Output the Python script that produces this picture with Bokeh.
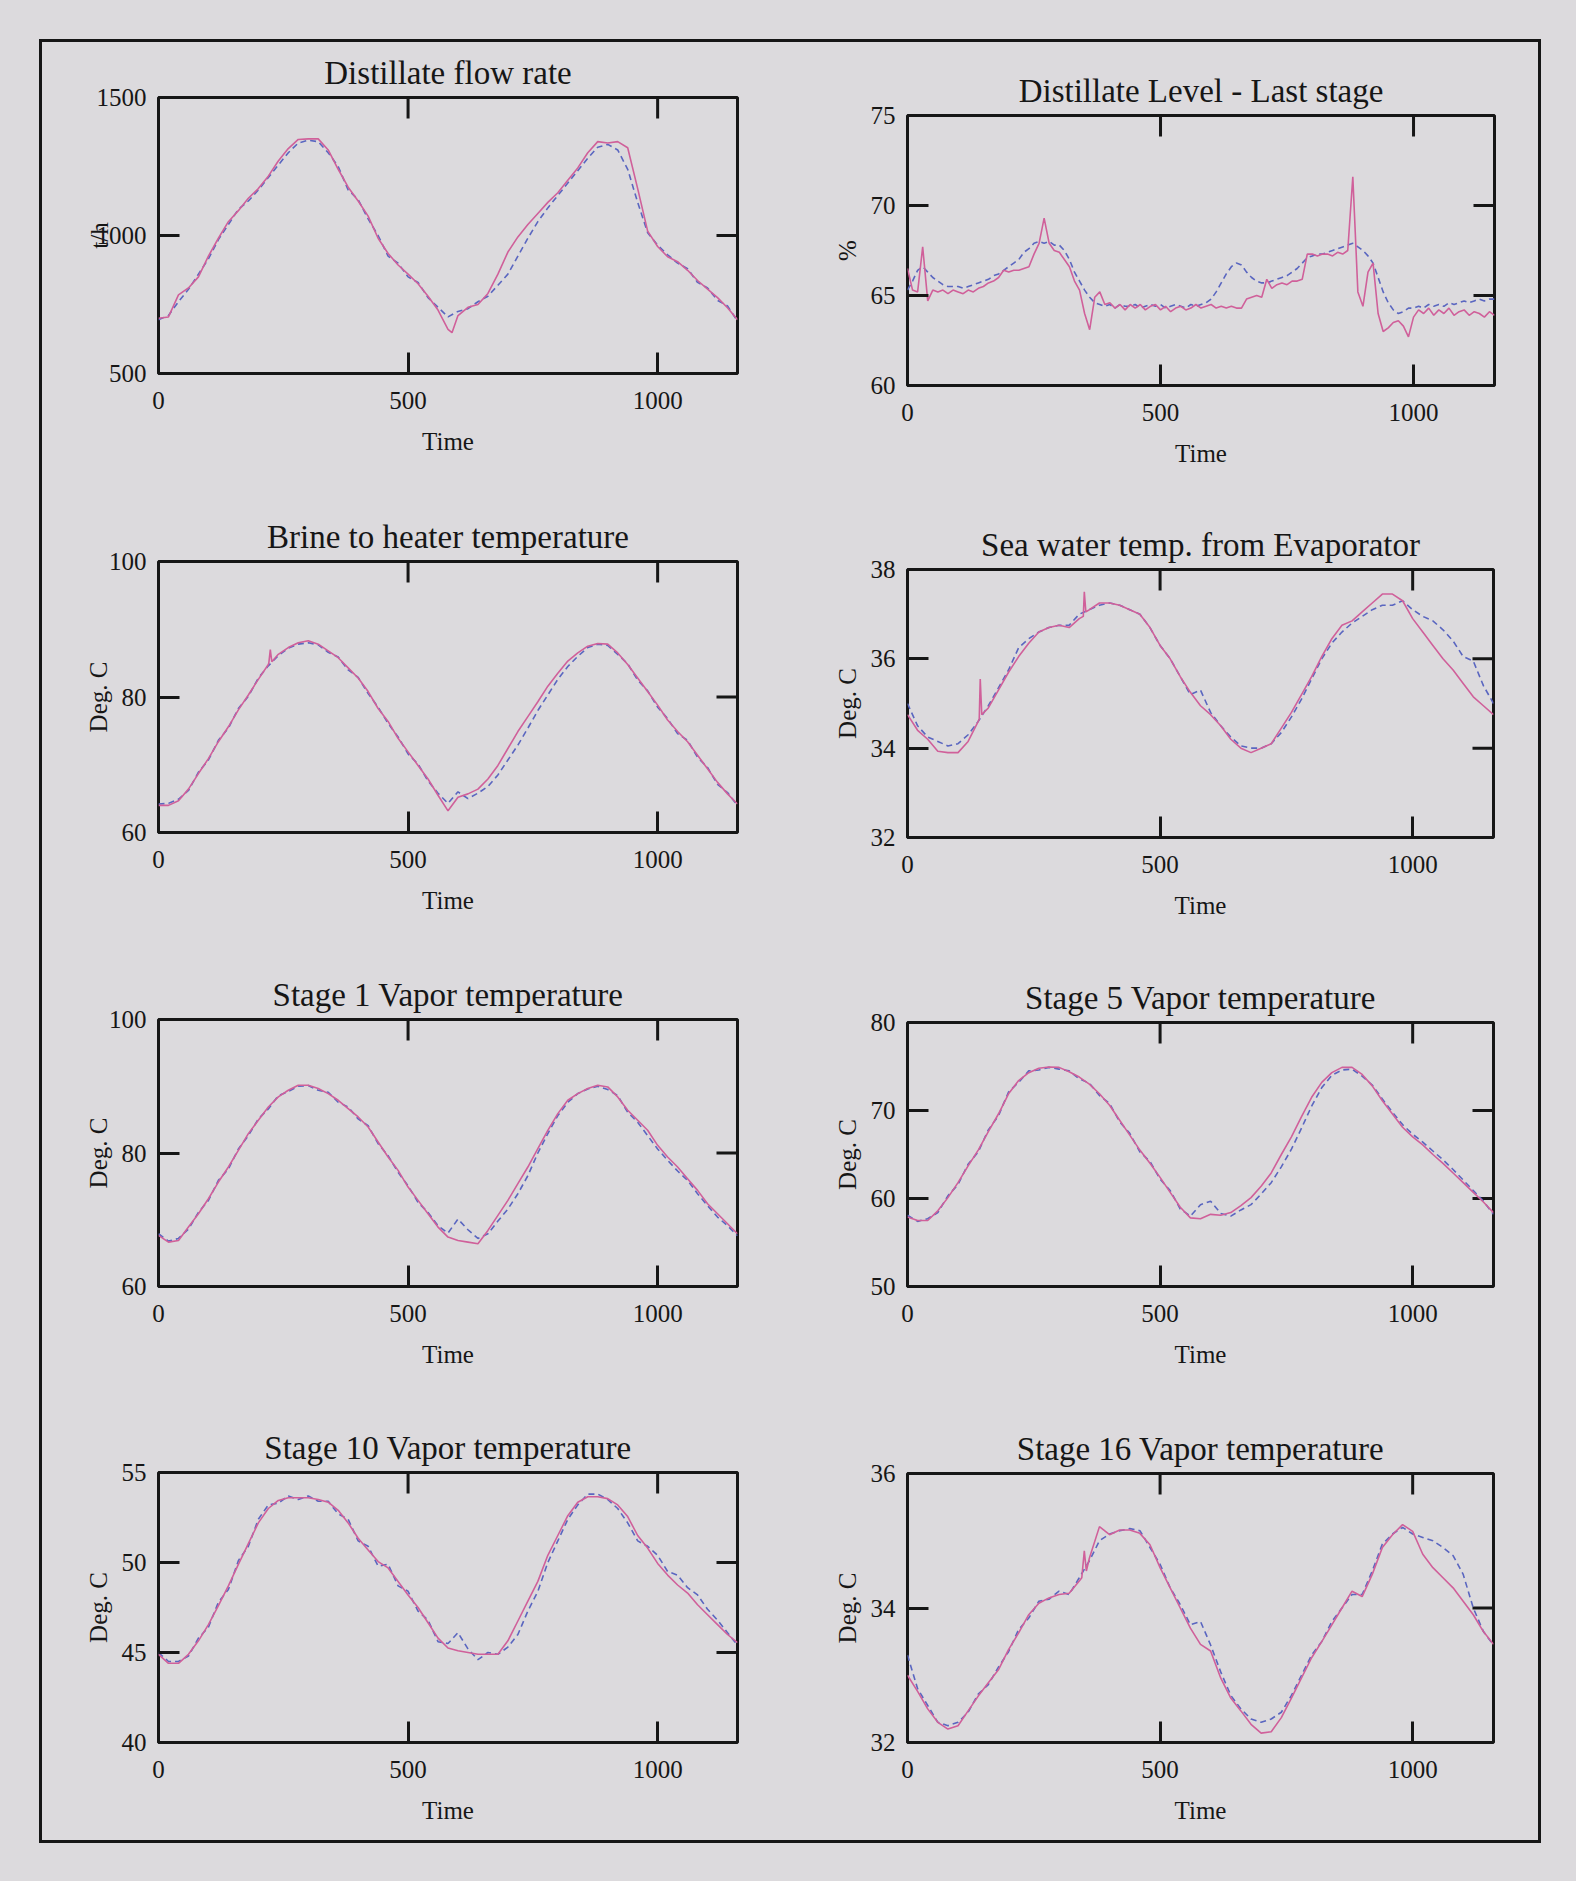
import math
from bokeh.plotting import figure
from bokeh.models import FixedTicker, Range1d, Title
from bokeh.layouts import column, row
from bokeh.embed import file_html
from bokeh.resources import INLINE

# ---------------- data ----------------
time_grid = list(range(0, 1161, 20))          # sample times for most series
time_fine = list(range(0, 1161, 10))          # sample times for the level plot

X_MAX = 1160
x_ticks = [0, 500, 1000]

# Distillate flow rate (t/h)
flow_ticks = [500, 1000, 1500]
flow_mag = [700, 705, 785, 810, 850, 925, 990, 1050, 1090, 1135, 1170, 1215, 1270, 1315, 1348,
            1350, 1350, 1310, 1240, 1175, 1125, 1070, 990, 935, 893, 860, 825, 780, 730, 660,
            710, 740, 750, 790, 860, 940, 995, 1040, 1080, 1120, 1155, 1200, 1245, 1300, 1340,
            1335, 1340, 1318, 1170, 1016, 960, 923, 905, 874, 837, 806, 775, 738, 695]
flow_blu = [695, 710, 760, 805, 860, 915, 985, 1040, 1095, 1125, 1165, 1210, 1255, 1300, 1335,
            1345, 1340, 1300, 1250, 1165, 1130, 1060, 1000, 925, 900, 850, 830, 775, 740, 705,
            725, 735, 760, 780, 820, 860, 925, 990, 1050, 1100, 1145, 1190, 1235, 1280, 1320,
            1330, 1310, 1240, 1120, 1010, 965, 930, 900, 880, 830, 810, 765, 745, 690]
flow_spike_t = [588]
flow_spike_v = [648]

# Distillate level - last stage (%)
level_ticks = [60, 65, 70, 75]
level_mag = [66.5, 65.3, 65.2, 67.7, 64.7, 65.3, 65.2, 65.3, 65.1, 65.3, 65.2, 65.1, 65.3, 65.2,
             65.4, 65.5, 65.7, 65.8, 66.0, 66.4, 66.3, 66.4, 66.4, 66.5, 66.6, 67.3, 67.9, 69.3,
             67.9, 67.5, 67.4, 67.0, 66.6, 65.8, 65.3, 64.0, 63.1, 64.9, 65.2, 64.5, 64.6, 64.3,
             64.5, 64.2, 64.5, 64.3, 64.5, 64.2, 64.4, 64.5, 64.2, 64.4, 64.1, 64.3, 64.4, 64.2,
             64.3, 64.5, 64.3, 64.4, 64.5, 64.3, 64.4, 64.3, 64.4, 64.3, 64.3, 64.8, 64.9, 65.0,
             64.9, 65.9, 65.4, 65.6, 65.7, 65.6, 65.8, 65.8, 65.9, 67.3, 67.3, 67.2, 67.3, 67.3,
             67.2, 67.4, 67.3, 67.5, 71.6, 65.2, 64.4, 66.3, 66.8, 64.0, 63.0, 63.2, 63.5, 63.6,
             63.3, 62.7, 63.8, 64.2, 64.0, 64.3, 63.9, 64.2, 64.0, 64.3, 63.9, 64.1, 64.2, 63.9,
             64.1, 64.0, 63.8, 64.1, 63.9]
level_blu = [65.3, 65.8, 66.4, 66.6, 66.3, 66.0, 65.8, 65.6, 65.5, 65.5, 65.5, 65.4, 65.5, 65.6,
             65.7, 65.8, 65.9, 66.1, 66.2, 66.4, 66.6, 66.8, 67.0, 67.4, 67.6, 67.9, 68.0, 67.9,
             68.0, 67.8, 67.8, 67.5, 67.0, 66.3, 65.8, 65.3, 64.9, 64.6, 64.5, 64.4, 64.5, 64.3,
             64.5, 64.4, 64.4, 64.5, 64.3, 64.4, 64.5, 64.4, 64.5, 64.3, 64.4, 64.5, 64.4, 64.3,
             64.5, 64.4, 64.5, 64.6, 64.8, 65.2, 65.7, 66.2, 66.6, 66.8, 66.7, 66.3, 66.0, 65.8,
             65.7, 65.7, 65.8, 65.9, 66.0, 66.1, 66.3, 66.5, 66.8, 67.1, 67.2, 67.3, 67.3, 67.4,
             67.5, 67.6, 67.7, 67.8, 67.9, 67.7, 67.5, 67.2, 66.8, 66.0, 65.2, 64.6, 64.2, 64.0,
             64.1, 64.3, 64.3, 64.4, 64.3, 64.5, 64.4, 64.5, 64.4, 64.6, 64.5, 64.6, 64.7, 64.6,
             64.7, 64.8, 64.7, 64.8, 64.8]

# Brine to heater temperature (Deg. C)
brine_ticks = [60, 80, 100]
brine_mag = [64.0, 64.0, 64.7, 66.4, 68.7, 70.9, 73.4, 75.6, 78.1, 80.3, 82.6, 84.8, 86.3, 87.3,
             88.0, 88.3, 87.8, 86.8, 85.8, 84.3, 82.8, 80.8, 78.3, 76.4, 73.9, 71.9, 69.9, 67.9,
             65.5, 63.2, 65.2, 65.7, 66.4, 67.9, 69.9, 72.4, 74.9, 77.1, 79.3, 81.6, 83.5, 85.3,
             86.5, 87.5, 87.9, 87.8, 86.5, 84.8, 82.8, 80.8, 78.8, 76.6, 74.9, 73.4, 71.4, 69.4,
             67.4, 65.7, 64.2]
brine_blu = [64.2, 64.3, 64.9, 66.2, 68.9, 70.7, 73.6, 75.4, 78.3, 80.1, 82.8, 84.6, 86.1, 87.2,
             87.8, 88.0, 87.7, 86.6, 85.9, 84.0, 82.9, 80.5, 78.5, 76.1, 74.1, 71.6, 70.1, 67.6,
             65.8, 64.3, 66.0, 65.0, 65.8, 66.8, 68.5, 70.7, 72.9, 75.4, 78.0, 80.3, 82.6, 84.5,
             86.0, 87.3, 87.8, 87.6, 86.3, 84.9, 82.5, 80.9, 78.5, 76.8, 74.6, 73.6, 71.1, 69.6,
             67.1, 65.9, 64.0]
brine_spike_t = [221, 224, 227]
brine_spike_v = [85.0, 87.0, 85.2]

# Sea water temp. from Evaporator (Deg. C)
sea_ticks = [32, 34, 36, 38]
sea_mag = [34.75, 34.4, 34.2, 33.93, 33.9, 33.9, 34.15, 34.6, 34.9, 35.3, 35.7, 36.05, 36.35,
           36.6, 36.7, 36.75, 36.7, 36.9, 37.1, 37.25, 37.25, 37.2, 37.1, 37.0, 36.7, 36.3, 36.0,
           35.6, 35.25, 34.95, 34.75, 34.5, 34.2, 34.0, 33.9, 34.0, 34.1, 34.45, 34.8, 35.2, 35.6,
           36.05, 36.45, 36.75, 36.85, 37.05, 37.25, 37.45, 37.45, 37.3, 36.9, 36.6, 36.3, 36.0,
           35.75, 35.45, 35.15, 34.95, 34.75]
sea_blu = [35.0, 34.5, 34.25, 34.15, 34.05, 34.1, 34.3, 34.6, 34.95, 35.35, 35.75, 36.25, 36.45,
           36.6, 36.7, 36.75, 36.75, 37.0, 37.1, 37.2, 37.25, 37.2, 37.1, 37.0, 36.7, 36.3, 36.0,
           35.6, 35.2, 35.3, 34.8, 34.5, 34.25, 34.05, 34.0, 34.0, 34.1, 34.35, 34.7, 35.1, 35.55,
           36.0, 36.35, 36.6, 36.8, 36.95, 37.1, 37.2, 37.2, 37.3, 37.1, 36.95, 36.85, 36.65,
           36.4, 36.05, 35.95, 35.4, 35.0]
sea_spike_t = [142, 144, 147, 348, 350, 353]
sea_spike_v = [34.65, 35.55, 34.75, 36.95, 37.5, 37.05]

# Stage 1 Vapor temperature (Deg. C)
st1_ticks = [60, 80, 100]
st1_mag = [67.65, 66.65, 66.9, 68.9, 70.9, 73.15, 75.65, 77.9, 80.4, 82.9, 84.9, 86.9, 88.4,
           89.4, 90.15, 90.15, 89.65, 88.9, 87.9, 86.65, 85.4, 83.9, 81.65, 79.4, 77.4, 74.9,
           72.9, 70.9, 68.9, 67.4, 66.9, 66.65, 66.4, 68.4, 70.65, 72.9, 75.4, 77.9, 80.65, 83.4,
           85.9, 87.9, 88.9, 89.65, 90.15, 89.9, 88.4, 86.4, 84.9, 83.4, 81.15, 79.4, 77.9, 76.15,
           74.4, 72.4, 70.9, 69.4, 67.9]
st1_blu = [67.9, 66.8, 67.2, 68.6, 71.1, 72.9, 75.9, 77.6, 80.6, 82.6, 85.1, 86.6, 88.6, 89.2,
           90.0, 90.1, 89.4, 89.1, 87.6, 86.9, 85.1, 84.1, 81.4, 79.6, 77.1, 75.1, 72.6, 71.1,
           69.1, 68.0, 70.1, 68.5, 67.2, 67.9, 69.8, 71.6, 73.9, 76.6, 80.0, 82.9, 85.6, 87.6,
           88.9, 89.6, 90.0, 89.5, 88.6, 86.1, 84.6, 82.6, 80.6, 78.9, 77.3, 75.9, 73.9, 72.1,
           70.4, 69.1, 67.6]

# Stage 5 Vapor temperature (Deg. C)
st5_ticks = [50, 60, 70, 80]
st5_mag = [57.9, 57.5, 57.5, 58.6, 60.1, 61.8, 63.7, 65.5, 67.6, 69.6, 71.9, 73.4, 74.3, 74.8,
           74.95, 74.9, 74.4, 73.8, 73.0, 71.9, 70.6, 68.9, 67.2, 65.5, 64.0, 62.4, 60.7, 59.0,
           57.8, 57.7, 58.2, 58.1, 58.4, 59.2, 60.1, 61.4, 62.9, 65.0, 67.0, 69.3, 71.5, 73.2,
           74.3, 74.9, 74.9, 74.1, 72.8, 71.1, 69.6, 68.1, 67.0, 66.1, 65.0, 64.0, 62.9, 61.8,
           60.7, 59.6, 58.4]
st5_blu = [58.1, 57.4, 57.7, 58.4, 60.3, 61.6, 63.9, 65.3, 67.8, 69.4, 72.1, 73.2, 74.5, 74.6,
           74.9, 74.7, 74.5, 73.6, 73.1, 71.7, 70.8, 68.7, 67.4, 65.3, 64.2, 62.2, 60.9, 58.8,
           58.0, 59.3, 59.7, 58.3, 58.0, 58.7, 59.3, 60.5, 61.8, 63.6, 65.6, 68.0, 70.5, 72.6,
           74.0, 74.6, 74.7, 73.9, 72.9, 71.3, 69.8, 68.4, 67.3, 66.4, 65.4, 64.4, 63.3, 62.1,
           60.9, 59.7, 58.2]

# Stage 10 Vapor temperature (Deg. C)
st10_ticks = [40, 45, 50, 55]
st10_mag = [44.9, 44.4, 44.4, 44.9, 45.65, 46.55, 47.6, 48.7, 49.9, 51.05, 52.2, 53.0, 53.45,
            53.6, 53.6, 53.6, 53.5, 53.35, 52.9, 52.2, 51.35, 50.7, 50.05, 49.7, 48.95, 48.2,
            47.5, 46.65, 45.8, 45.25, 45.1, 45.0, 44.9, 44.9, 44.9, 45.65, 46.75, 47.85, 48.95,
            50.4, 51.5, 52.6, 53.35, 53.65, 53.65, 53.55, 53.2, 52.55, 51.5, 50.8, 49.95, 49.3,
            48.75, 48.3, 47.65, 47.1, 46.55, 46.0, 45.55]
st10_blu = [45.0, 44.5, 44.5, 44.8, 45.8, 46.4, 47.8, 48.5, 50.1, 50.9, 52.4, 53.2, 53.3, 53.7,
            53.5, 53.7, 53.4, 53.4, 52.7, 52.4, 51.2, 50.9, 49.8, 49.9, 48.7, 48.4, 47.3, 46.8,
            45.6, 45.5, 46.1, 45.2, 44.6, 45.0, 44.9, 45.3, 46.0, 47.3, 48.4, 50.0, 51.2, 52.4,
            53.2, 53.8, 53.8, 53.5, 53.0, 52.2, 51.2, 50.9, 50.4, 49.5, 49.3, 48.6, 48.2, 47.4,
            46.8, 46.1, 45.4]

# Stage 16 Vapor temperature (Deg. C)
st16_ticks = [32, 34, 36]
st16_mag = [33.0, 32.76, 32.5, 32.3, 32.2, 32.25, 32.47, 32.69, 32.89, 33.08, 33.38, 33.63,
            33.9, 34.07, 34.15, 34.2, 34.22, 34.4, 34.74, 35.21, 35.09, 35.16, 35.16, 35.11,
            34.94, 34.6, 34.3, 34.0, 33.7, 33.46, 33.36, 32.96, 32.66, 32.47, 32.27, 32.14, 32.16,
            32.37, 32.66, 32.96, 33.26, 33.5, 33.75, 34.0, 34.25, 34.17, 34.5, 34.9, 35.09, 35.24,
            35.14, 34.8, 34.6, 34.45, 34.3, 34.1, 33.9, 33.65, 33.46]
st16_blu = [33.3, 32.8, 32.55, 32.3, 32.25, 32.3, 32.45, 32.72, 32.86, 33.12, 33.35, 33.68,
            33.85, 34.1, 34.13, 34.25, 34.2, 34.45, 34.7, 35.0, 35.1, 35.15, 35.18, 35.15, 34.9,
            34.65, 34.3, 34.05, 33.75, 33.8, 33.45, 33.05, 32.7, 32.5, 32.35, 32.3, 32.35, 32.45,
            32.7, 33.0, 33.3, 33.5, 33.8, 34.0, 34.2, 34.2, 34.55, 34.95, 35.1, 35.2, 35.1, 35.05,
            35.0, 34.9, 34.78, 34.5, 34.0, 33.65, 33.45]
st16_spike_t = [345, 350, 354]
st16_spike_v = [34.45, 34.85, 34.55]

# ---------------- styling ----------------
BG = "#dcdadd"
INK = "#161616"
MAG = "#d0609a"
BLU = "#5a66c0"
SERIF = "Liberation Serif"
TICK = 21


def merged(t, v, st=(), sv=()):
    assert len(t) == len(v), (len(t), len(v))
    pts = sorted(zip(list(t) + list(st), list(v) + list(sv)))
    return [a for a, _ in pts], [b for _, b in pts]


def panel(title, ylab, yticks, tm, vm, tb, vb, bl, bt, fw, fh, br, bb, lab_stand,
          sm_t=(), sm_v=(), sb_t=(), sb_v=()):
    y0, y1 = yticks[0], yticks[-1]
    p = figure(output_backend="svg", toolbar_location=None,
               frame_width=fw, frame_height=fh, frame_align=False,
               min_border_left=bl, min_border_top=bt, min_border_right=br, min_border_bottom=bb,
               x_range=Range1d(0, X_MAX), y_range=Range1d(y0, y1),
               background_fill_color=BG, border_fill_color=BG,
               outline_line_color=INK, outline_line_width=3)
    p.grid.visible = False
    p.title = Title(text=title, align="center", text_font=SERIF, text_font_size="33px",
                    text_font_style="normal", text_color=INK, standoff=13)

    def style(ax):
        ax.major_tick_in = TICK
        ax.major_tick_out = 0
        ax.minor_tick_in = 0
        ax.minor_tick_out = 0
        ax.axis_line_color = None
        ax.major_tick_line_color = INK
        ax.major_tick_line_width = 3
        ax.major_label_text_font = SERIF
        ax.major_label_text_color = INK
        ax.major_label_text_font_size = "25px"
        ax.axis_label_text_font = SERIF
        ax.axis_label_text_font_style = "normal"
        ax.axis_label_text_color = INK
        ax.axis_label_text_font_size = "25px"

    xa = p.xaxis[0]
    xa.ticker = FixedTicker(ticks=x_ticks)
    style(xa)
    xa.axis_label = "Time"
    xa.major_label_standoff = 18
    xa.axis_label_standoff = 16

    ya = p.yaxis[0]
    ya.ticker = FixedTicker(ticks=yticks)
    style(ya)
    ya.axis_label = ylab
    ya.major_label_standoff = 12
    ya.axis_label_standoff = lab_stand

    # mirrored inward ticks on the top and right edges of the box
    tx = [t for t in x_ticks if 0 < t < X_MAX]
    p.ray(x=tx, y=[y1] * len(tx), length=TICK, length_units="screen", angle=-math.pi / 2,
          line_color=INK, line_width=3)
    ty = [t for t in yticks if y0 < t < y1]
    p.ray(x=[X_MAX] * len(ty), y=ty, length=TICK, length_units="screen", angle=math.pi,
          line_color=INK, line_width=3)

    bx, by = merged(tb, vb, sb_t, sb_v)
    p.line(bx, by, line_color=BLU, line_width=1.6, line_dash="6 4")
    mx, my = merged(tm, vm, sm_t, sm_v)
    p.line(mx, my, line_color=MAG, line_width=1.6)
    return p


p1 = panel("Distillate flow rate", "t/h", flow_ticks, time_grid, flow_mag, time_grid, flow_blu,
           116, 55, 579, 276, 83, 107, -19, flow_spike_t, flow_spike_v)
p2 = panel("Distillate Level - Last stage", "%", level_ticks, time_fine, level_mag, time_fine,
           level_blu, 87, 73, 587, 270, 44, 95, 7)
p3 = panel("Brine to heater temperature", "Deg. C", brine_ticks, time_grid, brine_mag, time_grid,
           brine_blu, 116, 81, 579, 271, 83, 103, -6, brine_spike_t, brine_spike_v)
p4 = panel("Sea water temp. from Evaporator", "Deg. C", sea_ticks, time_grid, sea_mag, time_grid,
           sea_blu, 87, 89, 586, 268, 45, 98, 7, sea_spike_t, sea_spike_v)
p5 = panel("Stage 1 Vapor temperature", "Deg. C", st1_ticks, time_grid, st1_mag, time_grid,
           st1_blu, 116, 84, 579, 267, 83, 104, -6)
p6 = panel("Stage 5 Vapor temperature", "Deg. C", st5_ticks, time_grid, st5_mag, time_grid,
           st5_blu, 87, 87, 586, 264, 45, 104, 7)
p7 = panel("Stage 10 Vapor temperature", "Deg. C", st10_ticks, time_grid, st10_mag, time_grid,
           st10_blu, 116, 82, 579, 270, 83, 98, 7)
p8 = panel("Stage 16 Vapor temperature", "Deg. C", st16_ticks, time_grid, st16_mag, time_grid,
           st16_blu, 87, 83, 586, 269, 45, 98, 7, st16_spike_t, st16_spike_v)

grid = column(row(p1, p2), row(p3, p4), row(p5, p6), row(p7, p8),
              styles={"border": "3px solid #161616"}, margin=(39, 0, 0, 39))
page = column(grid, width=1576, height=1881, styles={"background-color": BG})

open("out.html", "w").write(file_html(page, INLINE))
